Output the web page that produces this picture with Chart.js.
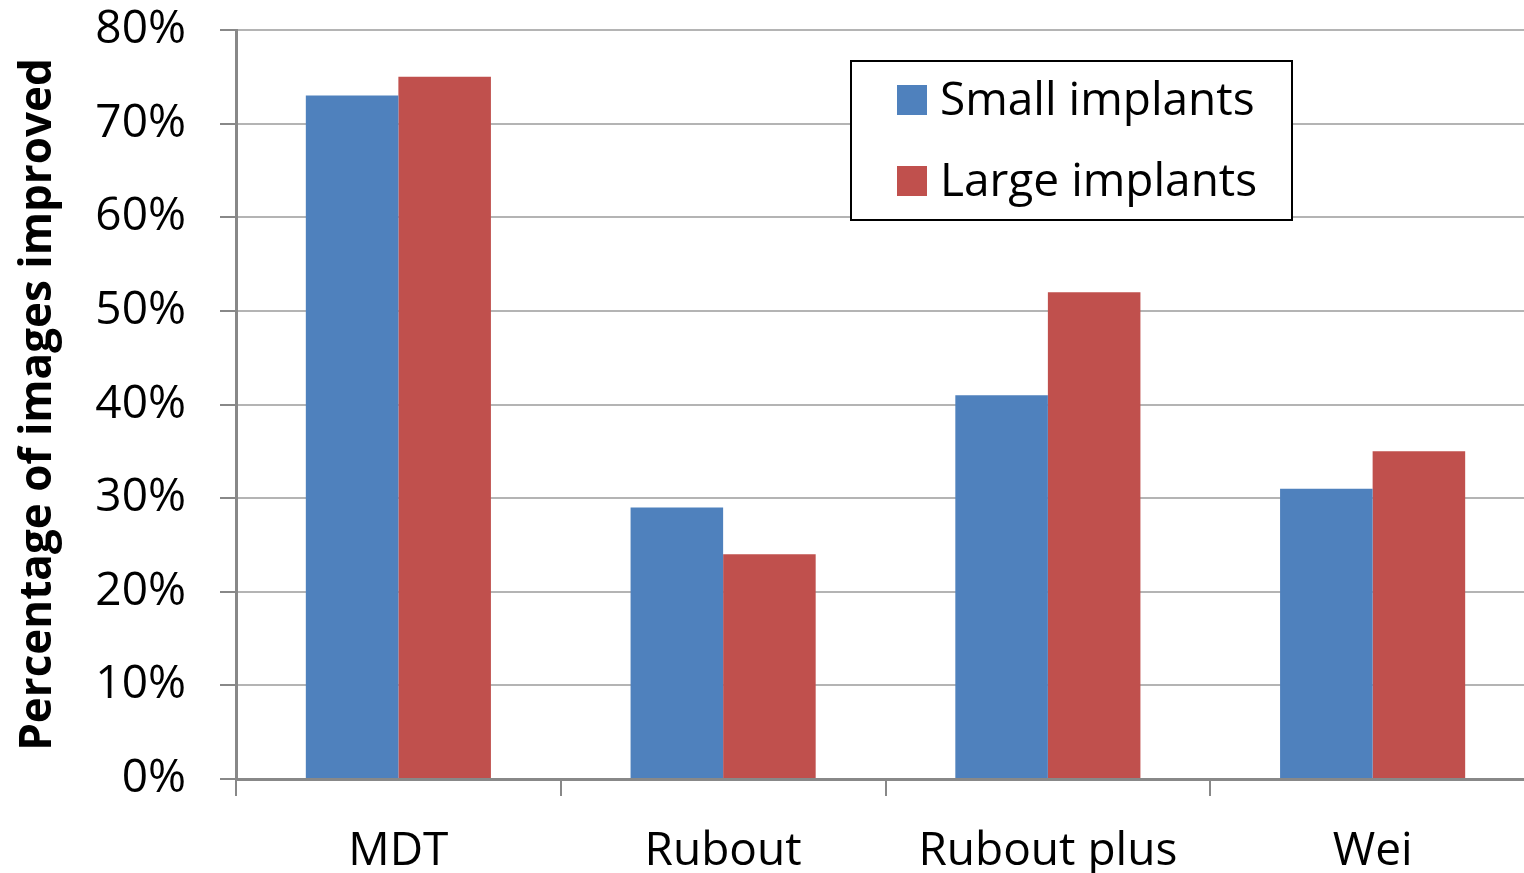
<!DOCTYPE html>
<html>
<head>
<meta charset="utf-8">
<title>Percentage of images improved</title>
<script src="https://cdn.jsdelivr.net/npm/chart.js@4"></script>
<style>
    html, body { margin: 0; padding: 0; background: #fff; overflow: hidden; }
    #wrap { width: 1524px; height: 873px; overflow: hidden; }
    canvas { display: block; }
</style>
</head>
<body>
<div id="wrap">
    <canvas id="barChart" width="1545" height="873"></canvas>
</div>
<script>
const categories  = ['MDT', 'Rubout', 'Rubout plus', 'Wei'];
const smallValues = [73, 29, 41, 31];
const largeValues = [75, 24, 52, 35];
const seriesNames = ['Small implants', 'Large implants'];
const yTicks      = [0, 10, 20, 30, 40, 50, 60, 70, 80];

const blue     = '#4F81BD';
const red      = '#C0504D';
const axisGray = '#888888';
const gridGray = '#b4b4b4';
const fontName = '"Open Sans", "DejaVu Sans", sans-serif';

//legend box drawn inside the plot, top right
const boxLegend = {
    id: 'boxLegend',
    afterDraw(chart) {
        const ctx = chart.ctx;
        const x = 851, y = 61, w = 441, h = 159;
        ctx.save();
        ctx.fillStyle = '#fff';
        ctx.fillRect(x, y, w, h);
        ctx.strokeStyle = '#000';
        ctx.lineWidth = 2;
        ctx.strokeRect(x, y, w, h);
        ctx.font = `46px ${fontName}`;
        ctx.textBaseline = 'middle';
        chart.data.datasets.forEach((ds, i) => {
            const rowY = 100 + i * 81;
            ctx.fillStyle = ds.backgroundColor;
            ctx.fillRect(897, rowY - 15, 30, 30);
            ctx.fillStyle = '#000';
            ctx.fillText(ds.label, 940, rowY + 2);
        });
        ctx.restore();
    }
};

const ctx = document.getElementById('barChart').getContext('2d');
const barChart = new Chart(ctx, {
    type: 'bar',
    data: {
        labels: categories,
        datasets: [
            { label: seriesNames[0], data: smallValues, backgroundColor: blue },
            { label: seriesNames[1], data: largeValues, backgroundColor: red }
        ]
    },
    options: {
        responsive: false,
        animation: false,
        devicePixelRatio: 1,
        categoryPercentage: 0.57,
        barPercentage: 1,
        layout: { padding: { top: 30, right: 10, left: 0, bottom: 0 } },
        plugins: {
            legend: { display: false },
            tooltip: { enabled: false }
        },
        scales: {
            x: {
                grid: {
                    offset: true,
                    drawOnChartArea: false,
                    drawTicks: true,
                    tickLength: 17,
                    tickColor: axisGray,
                    lineWidth: 2
                },
                border: { color: axisGray, width: 3 },
                ticks: {
                    color: '#000',
                    font: { family: fontName, size: 46 },
                    padding: 28,
                    maxRotation: 0
                },
                afterFit: (s) => { s.height = 94; }
            },
            y: {
                min: 0,
                max: 80,
                afterBuildTicks: (s) => { s.ticks = yTicks.map(v => ({ value: v })); },
                grid: {
                    color: gridGray,
                    lineWidth: 2,
                    tickColor: axisGray,
                    tickLength: 16
                },
                border: { color: axisGray, width: 3 },
                ticks: {
                    color: '#000',
                    font: { family: fontName, size: 46 },
                    padding: 34,
                    callback: (val) => `${val}%`
                },
                title: {
                    display: true,
                    text: 'Percentage of images improved',
                    color: '#000',
                    font: { family: fontName, size: 44, weight: 'bold' },
                    padding: { top: 12, bottom: 0 }
                },
                afterFit: (s) => {
                    s.width = 236;
                    s.paddingTop = 0;
                    s.paddingBottom = 0;
                }
            }
        }
    },
    plugins: [boxLegend]
});
</script>
</body>
</html>
